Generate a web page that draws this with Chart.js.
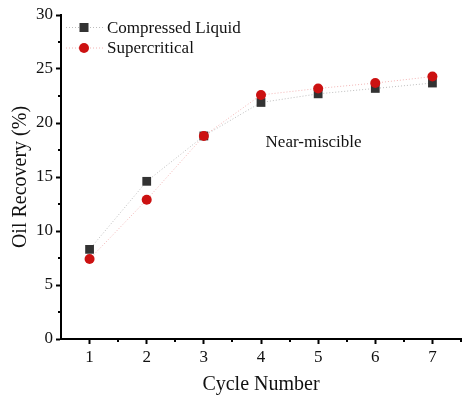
<!DOCTYPE html>
<html>
<head>
<meta charset="utf-8">
<script src="https://cdn.jsdelivr.net/npm/chart.js@4"></script>
<style>
html,body{margin:0;padding:0;background:#fff;}
#wrap{width:462px;height:401px;position:relative;}
</style>
</head>
<body>
<div id="wrap"><canvas id="c" width="462" height="401"></canvas></div>
<script>
const cycles = [1, 2, 3, 4, 5, 6, 7];
const compressedLiquid = [8.3, 14.6, 18.8, 21.9, 22.7, 23.2, 23.7];
const supercritical = [7.4, 12.9, 18.8, 22.6, 23.2, 23.7, 24.3];
const seriesNames = ['Compressed Liquid', 'Supercritical'];
const xTicks = [1, 2, 3, 4, 5, 6, 7];
const yTicks = [0, 5, 10, 15, 20, 25, 30];
const annotationText = 'Near-miscible';
const annotationAt = { x: 4.92, y: 18.2 };

const FONT = '"Liberation Serif", "Times New Roman", serif';

const toPts = arr => cycles.map((c, i) => ({ x: c, y: arr[i] }));

const minorTicks = {
  id: 'minorTicks',
  afterDraw(chart) {
    const ctx = chart.ctx;
    const xs = chart.scales.x, ys = chart.scales.y;
    ctx.save();
    ctx.strokeStyle = '#000';
    ctx.lineWidth = 2;
    ctx.beginPath();
    for (let i = 0; i < xTicks.length; i++) {
      const v = xTicks[i] + 0.5;
      const px = Math.round(xs.getPixelForValue(v));
      ctx.moveTo(px, xs.top);
      ctx.lineTo(px, xs.top + 3);
    }
    for (let i = 0; i < yTicks.length - 1; i++) {
      const v = yTicks[i] + 2.5;
      const py = Math.round(ys.getPixelForValue(v));
      ctx.moveTo(ys.right, py);
      ctx.lineTo(ys.right - 3, py);
    }
    ctx.stroke();
    ctx.restore();
  }
};

const customLegend = {
  id: 'customLegend',
  afterDatasetsDraw(chart) {
    const ctx = chart.ctx;
    const xs = chart.scales.x, ys = chart.scales.y;
    const left = xs.left;
    const top = ys.top;
    ctx.save();
    chart.data.datasets.forEach((ds, i) => {
      const cy = top + 12.5 + i * 20.5;
      const cx = left + 23;
      ctx.strokeStyle = ds.borderColor;
      ctx.lineWidth = 1;
      ctx.setLineDash(ds.borderDash);
      ctx.beginPath();
      ctx.moveTo(left + 5, cy);
      ctx.lineTo(left + 42, cy);
      ctx.stroke();
      ctx.setLineDash([]);
      ctx.fillStyle = ds.pointBackgroundColor;
      if (ds.pointStyle === 'rect') {
        ctx.fillRect(cx - 4.5, cy - 4.5, 9, 9);
      } else {
        ctx.beginPath();
        ctx.arc(cx, cy, 5, 0, Math.PI * 2);
        ctx.fill();
      }
      ctx.fillStyle = '#111';
      ctx.font = '17px ' + FONT;
      ctx.textBaseline = 'middle';
      ctx.textAlign = 'left';
      ctx.fillText(ds.label, left + 46, cy + 1);
    });
    ctx.restore();
  }
};

const annotation = {
  id: 'annotationText',
  afterDatasetsDraw(chart) {
    const ctx = chart.ctx;
    const px = chart.scales.x.getPixelForValue(annotationAt.x);
    const py = chart.scales.y.getPixelForValue(annotationAt.y);
    ctx.save();
    ctx.fillStyle = '#111';
    ctx.font = '17px ' + FONT;
    ctx.textAlign = 'center';
    ctx.textBaseline = 'middle';
    ctx.fillText(annotationText, px, py);
    ctx.restore();
  }
};

new Chart(document.getElementById('c'), {
  type: 'scatter',
  data: {
    datasets: [
      {
        label: seriesNames[0],
        data: toPts(compressedLiquid),
        showLine: true,
        borderColor: '#bdbdbd',
        borderWidth: 1,
        borderDash: [1, 2],
        pointStyle: 'rect',
        pointRadius: 6.2,
        pointBorderWidth: 0,
        pointBackgroundColor: '#333333',
        pointBorderColor: '#333333',
        order: 2
      },
      {
        label: seriesNames[1],
        data: toPts(supercritical),
        showLine: true,
        borderColor: '#f2b4b4',
        borderWidth: 1,
        borderDash: [1, 2],
        pointStyle: 'circle',
        pointRadius: 5,
        pointBorderWidth: 0,
        pointBackgroundColor: '#cc1111',
        pointBorderColor: '#cc1111',
        order: 1
      }
    ]
  },
  options: {
    responsive: false,
    animation: false,
    devicePixelRatio: 1,
    layout: { autoPadding: false, padding: { top: 15, right: 1, left: 0, bottom: 0 } },
    plugins: {
      legend: { display: false },
      tooltip: { enabled: false }
    },
    scales: {
      x: {
        type: 'linear',
        min: 0.5,
        max: 7.5,
        afterBuildTicks: s => { s.ticks = xTicks.map(v => ({ value: v })); },
        afterFit: s => { s.height = 62; s.paddingLeft = 0; s.paddingRight = 0; },
        border: { display: true, color: '#000', width: 2 },
        grid: { drawOnChartArea: false, drawTicks: true, tickLength: 5, tickWidth: 2, tickColor: '#000' },
        ticks: { color: '#111', font: { family: FONT, size: 17 }, padding: 3, maxRotation: 0 },
        title: { display: true, text: 'Cycle Number', color: '#111', font: { family: FONT, size: 20 }, padding: { top: 0, bottom: 4 } }
      },
      y: {
        type: 'linear',
        min: 0,
        max: 30,
        afterBuildTicks: s => { s.ticks = yTicks.map(v => ({ value: v })); },
        afterFit: s => { s.width = 61; s.paddingTop = 0; s.paddingBottom = 0; },
        border: { display: true, color: '#000', width: 2 },
        grid: { drawOnChartArea: false, drawTicks: true, tickLength: 5, tickWidth: 2, tickColor: '#000' },
        ticks: { color: '#111', font: { family: FONT, size: 17 }, padding: 3 },
        title: { display: true, text: 'Oil Recovery (%)', color: '#111', font: { family: FONT, size: 20 }, padding: { top: 9, bottom: 0 } }
      }
    }
  },
  plugins: [minorTicks, customLegend, annotation]
});
</script>
</body>
</html>
